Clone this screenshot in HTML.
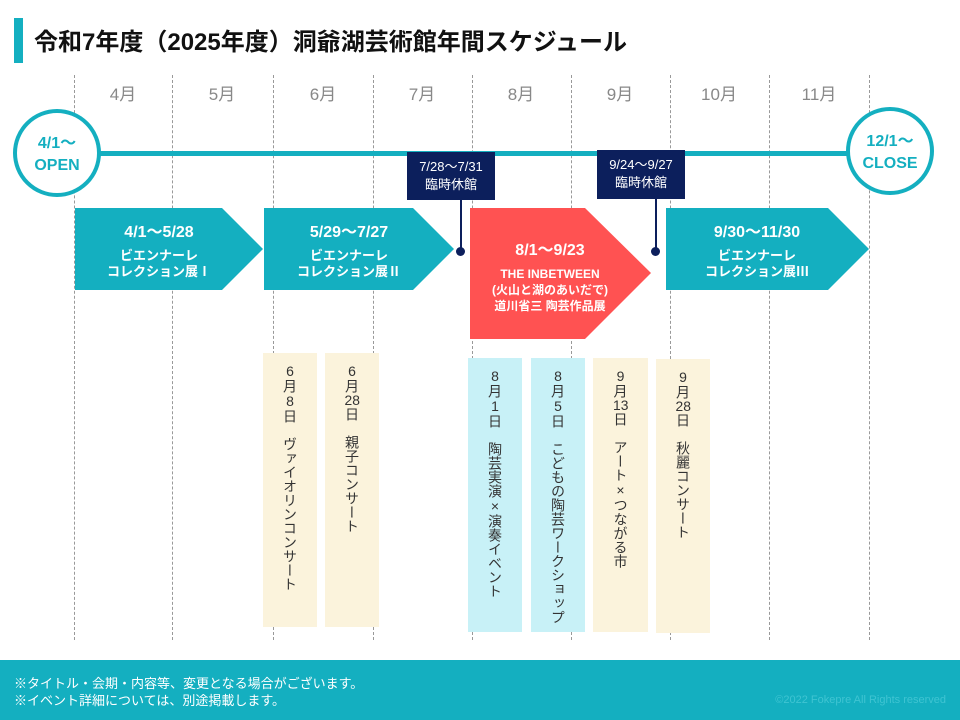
<!DOCTYPE html>
<html><head><meta charset="utf-8"><style>
*{margin:0;padding:0;box-sizing:border-box}
body{width:960px;height:720px;position:relative;background:#fff;font-family:"Liberation Sans","Noto Sans CJK JP",sans-serif;overflow:hidden}
.a{position:absolute}
.dl{position:absolute;top:75px;height:565px;border-left:1px dashed #999}
.mo{position:absolute;top:80px;width:100px;text-align:center;color:#888;font-size:17px}
.circ{position:absolute;width:88px;height:88px;border:4px solid #14afc0;border-radius:50%;background:#fff;color:#14afc0;font-weight:bold;font-size:16px;text-align:center;line-height:22px;padding-top:20px}
.nb{position:absolute;background:#0c1f5c;color:#fff;font-size:13px;text-align:center;line-height:18px;padding-top:6px}
.arrow{position:absolute;color:#fff;text-align:center;font-weight:bold}
.card{position:absolute;width:54px;height:274px;font-size:14px;color:#333}
.card .t{writing-mode:vertical-rl;text-orientation:upright;position:absolute;left:50%;top:10px;transform:translateX(-50%);line-height:1;white-space:nowrap;letter-spacing:0}
.tc{text-combine-upright:all}
</style></head><body>
<div class="a" style="left:14px;top:18px;width:9px;height:45px;background:#14afc0"></div>
<div class="a" style="left:34px;top:22px;font-size:24px;font-weight:bold;color:#111;white-space:nowrap">令和7年度（2025年度）洞爺湖芸術館年間スケジュール</div>

<div class="dl" style="left:74px"></div><div class="dl" style="left:172px"></div><div class="dl" style="left:273px"></div><div class="dl" style="left:373px"></div><div class="dl" style="left:472px"></div><div class="dl" style="left:571px"></div><div class="dl" style="left:670px"></div><div class="dl" style="left:769px"></div><div class="dl" style="left:869px"></div>
<div class="mo" style="left:73px">4月</div><div class="mo" style="left:172px">5月</div><div class="mo" style="left:273px">6月</div><div class="mo" style="left:372px">7月</div><div class="mo" style="left:471px">8月</div><div class="mo" style="left:570px">9月</div><div class="mo" style="left:669px">10月</div><div class="mo" style="left:769px">11月</div>

<div class="a" style="left:95px;top:151px;width:760px;height:5px;background:#14afc0"></div>
<div class="circ" style="left:13px;top:109px">4/1～<br>OPEN</div>
<div class="circ" style="left:846px;top:107px">12/1～<br>CLOSE</div>

<div class="a" style="left:460px;top:195px;width:1.5px;height:56px;background:#0c1f5c"></div>
<div class="a" style="left:456px;top:247px;width:9px;height:9px;border-radius:50%;background:#0c1f5c"></div>
<div class="a" style="left:655px;top:195px;width:1.5px;height:56px;background:#0c1f5c"></div>
<div class="a" style="left:651px;top:247px;width:9px;height:9px;border-radius:50%;background:#0c1f5c"></div>
<div class="nb" style="left:407px;top:152px;width:88px;height:48px">7/28～7/31<br>臨時休館</div>
<div class="nb" style="left:597px;top:150px;width:88px;height:49px">9/24～9/27<br>臨時休館</div>

<svg class="a" style="left:0;top:0" width="960" height="720">
<polygon points="75,208 222,208 263,249 222,290 75,290" fill="#14afc0"/>
<polygon points="264,208 413,208 454,249 413,290 264,290" fill="#14afc0"/>
<polygon points="470,208 585,208 651,273 585,339 470,339" fill="#ff5252"/>
<polygon points="666,208 828,208 869,249 828,290 666,290" fill="#14afc0"/>
</svg>
<div class="arrow" style="left:75px;top:218px;width:168px"><div style="font-size:16px">4/1～5/28</div><div style="font-size:13px;line-height:16px;margin-top:6px">ビエンナーレ<br>コレクション展Ⅰ</div></div>
<div class="arrow" style="left:264px;top:218px;width:170px"><div style="font-size:16px">5/29～7/27</div><div style="font-size:13px;line-height:16px;margin-top:6px">ビエンナーレ<br>コレクション展Ⅱ</div></div>
<div class="arrow" style="left:470px;top:236px;width:160px"><div style="font-size:16px">8/1～9/23</div><div style="font-size:12px;line-height:16px;margin-top:6px">THE INBETWEEN<br>(火山と湖のあいだで)<br>道川省三 陶芸作品展</div></div>
<div class="arrow" style="left:666px;top:218px;width:182px"><div style="font-size:16px">9/30～11/30</div><div style="font-size:13px;line-height:16px;margin-top:6px">ビエンナーレ<br>コレクション展Ⅲ</div></div>

<div class="card" style="left:263px;top:353px;background:#fbf3dc"><div class="t">6月8日　ヴァイオリンコンサート</div></div>
<div class="card" style="left:325px;top:353px;background:#fbf3dc"><div class="t">6月<span class="tc">28</span>日　親子コンサート</div></div>
<div class="card" style="left:468px;top:358px;background:#c8f1f7"><div class="t">8月1日　陶芸実演×演奏イベント</div></div>
<div class="card" style="left:531px;top:358px;background:#c8f1f7"><div class="t">8月5日　こどもの陶芸ワークショップ</div></div>
<div class="card" style="left:593px;top:358px;width:55px;background:#fbf3dc"><div class="t">9月<span class="tc">13</span>日　アート×つながる市</div></div>
<div class="card" style="left:656px;top:359px;background:#fbf3dc"><div class="t">9月<span class="tc">28</span>日　秋麗コンサート</div></div>

<div class="a" style="left:0;top:660px;width:960px;height:60px;background:#14afc0"></div>
<div class="a" style="left:14px;top:675px;color:#fff;font-size:13px;line-height:17px">※タイトル・会期・内容等、変更となる場合がございます。<br>※イベント詳細については、別途掲載します。</div>
<div class="a" style="right:14px;top:694px;color:#3fc4d2;font-size:11px">©2022 Fokepre All Rights reserved</div>
</body></html>
